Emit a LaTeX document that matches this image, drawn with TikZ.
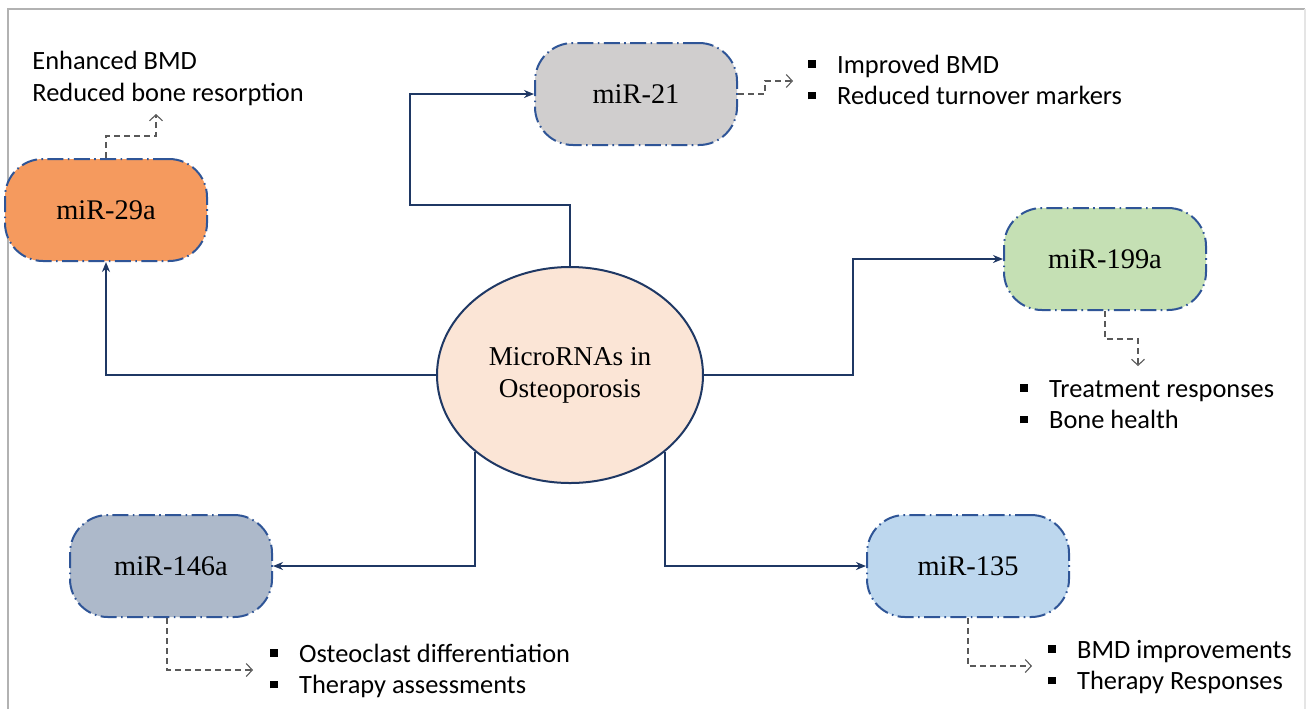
\documentclass[tikz,border=0pt]{standalone}
\usepackage{fontspec}
\setmainfont{Liberation Serif}
\newfontfamily\calibri{Carlito}
\usetikzlibrary{arrows.meta,shapes.geometric}
\definecolor{navy}{HTML}{1F3864}
\definecolor{bordblue}{HTML}{2F5597}
\definecolor{cOrange}{HTML}{F59A5E}
\definecolor{cGray}{HTML}{D0CECE}
\definecolor{cGreen}{HTML}{C5E0B4}
\definecolor{cSlate}{HTML}{ADB9CA}
\definecolor{cBlue}{HTML}{BDD7EE}
\definecolor{cPeach}{HTML}{FBE5D6}
\definecolor{dgray}{HTML}{595959}
\newcommand{\bul}{\rule[2.6pt]{3.8pt}{3.8pt}}
\tikzset{
  x=0.5pt, y=-0.5pt,
  mirbox/.style={draw=bordblue, line width=1pt,
    dash pattern=on 8pt off 2.2pt on 0.8pt off 2.2pt,
    rounded corners=19pt, minimum width=101pt, minimum height=51pt,
    font=\fontsize{14.2}{16}\selectfont, inner sep=0pt},
  conn/.style={draw=navy, line width=1pt, -{Stealth[length=5pt,width=4pt]}},
  dconn/.style={draw=dgray, line width=0.55pt, dash pattern=on 3pt off 2pt,
    -{Straight Barb[length=3pt,width=6.5pt]}},
  sidetext/.style={font=\calibri\fontsize{13.2}{15.8}\selectfont, inner sep=0pt, anchor=base west},
  frameline/.style={draw=black!30, line width=1.3pt}
}
\begin{document}
\begin{tikzpicture}
\useasboundingbox (0,0) rectangle (1307,709);
\fill[white] (0,0) rectangle (1307,709);
\draw[frameline] (8,709) -- (8,9) -- (1305,9);
\draw[draw=black!10, line width=0.8pt] (1305,9) -- (1305,709);

% central ellipse
\node[ellipse, draw=navy, line width=1pt, fill=cPeach, minimum width=133pt, minimum height=108pt,
  align=center, font=\fontsize{13.6}{16}\selectfont, inner sep=0pt] (ell) at (570,375)
  {MicroRNAs in\\Osteoporosis};

% miRNA boxes
\node[mirbox, fill=cOrange] (m29) at (106,210) {miR-29a};
\node[mirbox, fill=cGray] (m21) at (636,94) {miR-21};
\node[mirbox, fill=cGreen] (m199) at (1105,259) {miR-199a};
\node[mirbox, fill=cSlate] (m146) at (171,566) {miR-146a};
\node[mirbox, fill=cBlue] (m135) at (968,566) {miR-135};

% solid connectors
\draw[conn] (ell.north) |- (410,205) |- (m21.west);
\draw[conn] (ell.west) -| (m29.south);
\draw[conn] (ell.east) -- (853,375) |- (m199.west);
\draw[conn] (ell.south west) |- (m146.east);
\draw[conn] (ell.south east) |- (m135.west);

% outcome texts
\node[sidetext, align=left] (t29) at (32,101) {Enhanced BMD\\Reduced bone resorption};
\node[sidetext] (t21) at (808,73) {\begin{tabular}[t]{@{}l@{\hspace{10.6pt}}l@{}}\bul & Improved BMD\\ \bul & Reduced turnover markers\end{tabular}};
\node[sidetext] (t199) at (1020,397) {\begin{tabular}[t]{@{}l@{\hspace{10.6pt}}l@{}}\bul & Treatment responses\\ \bul & Bone health\end{tabular}};
\node[sidetext] (t146) at (270,662) {\begin{tabular}[t]{@{}l@{\hspace{10.6pt}}l@{}}\bul & Osteoclast differentiation\\ \bul & Therapy assessments\end{tabular}};
\node[sidetext] (t135) at (1048,658) {\begin{tabular}[t]{@{}l@{\hspace{10.6pt}}l@{}}\bul & BMD improvements\\ \bul & Therapy Responses\end{tabular}};

% dashed connectors
\draw[dconn] (m29.north) -- ++(0,-22) -- ++(50,0) -- ++(0,-22);
\draw[dconn] (m21.east) -- ++(27,0) -- ++(0,-13) -- ++(28,0);
\draw[dconn] (m199.south) -- ++(0,28) -- ++(33,0) -- ++(0,27);
\draw[dconn] ([xshift=-2pt]m146.south) -- ++(0,52) -- ++(86,0);
\draw[dconn] (m135.south) -- ++(0,48) -- ++(64,0);
\end{tikzpicture}
\end{document}
